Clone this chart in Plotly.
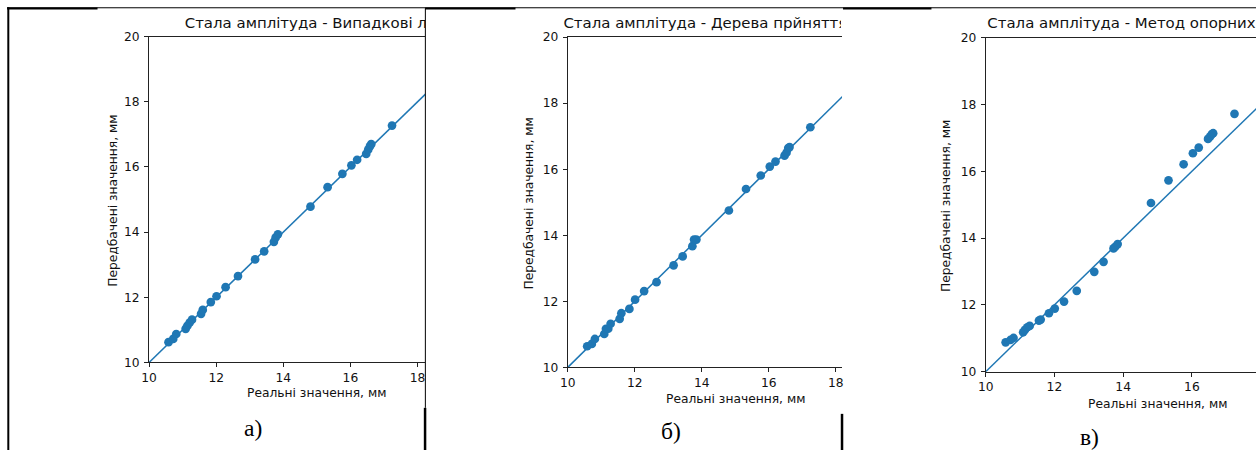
import plotly.graph_objects as go

# The photographed page is (figure + 8px body margin on each side) scaled into
# 1256x450, so target picture pixels t are converted into figure pixels.
OUT_W, OUT_H = 1256, 450
OFF = 8
SX = (OUT_W + 2 * OFF) / OUT_W
SY = (OUT_H + 2 * OFF) / OUT_H
W, H = OUT_W + OFF, OUT_H + OFF  # figure covers the picture up to its right/bottom edge
FS = 1.0 / ((1 / SX + 1 / SY) / 2)  # font compensation for the shrink

# ---- data ----
real = [10.58, 10.72, 10.81, 11.09, 11.14, 11.21, 11.28, 11.55, 11.60, 11.84,
        12.01, 12.28, 12.65, 13.16, 13.43, 13.72, 13.77, 13.84, 14.81, 15.32,
        15.76, 16.03, 16.20, 16.47, 16.53, 16.58, 16.62, 17.24]
pred_rf = [10.62, 10.72, 10.87, 11.03, 11.12, 11.22, 11.31, 11.49, 11.61, 11.85,
           12.03, 12.31, 12.65, 13.16, 13.41, 13.70, 13.83, 13.93, 14.78, 15.38,
           15.79, 16.05, 16.22, 16.40, 16.53, 16.63, 16.70, 17.27]
pred_dt = [10.64, 10.71, 10.86, 11.01, 11.17, 11.17, 11.32, 11.47, 11.64, 11.77,
           12.05, 12.31, 12.58, 13.09, 13.36, 13.67, 13.87, 13.87, 14.75, 15.40,
           15.81, 16.08, 16.23, 16.41, 16.50, 16.64, 16.67, 17.27]
pred_svr = [10.88, 10.95, 11.01, 11.18, 11.25, 11.33, 11.37, 11.53, 11.56, 11.75,
            11.89, 12.10, 12.42, 12.99, 13.29, 13.69, 13.74, 13.82, 15.05, 15.73,
            16.21, 16.54, 16.71, 16.97, 17.04, 17.11, 17.14, 17.72]
diag = [10, 20]

titles = ["Стала амплітуда - Випадкові ліси",
          "Стала амплітуда - Дерева прйняття рішень",
          "Стала амплітуда - Метод опорних векторів"]
xlabel = "Реальні значення, мм"
ylabel = "Передбачені значення, мм"
panel_labels = ["а)", "б)", "в)"]
xticks = [10, 12, 14, 16, 18]
yticks = [10, 12, 14, 16, 18, 20]

BLUE = "#1f77b4"
FONT = "DejaVu Sans"
TXT = "#111111"


def px(t):
    return (t * SX - OFF) / W


def py(t):
    return 1 - (t * SY - OFF) / H


# pixel geometry of each panel (picture pixels)
panels = [
    dict(pred=pred_rf, x0=148.3, x1=423.0, sc=33.4, y0=37.3, y1=361.7,
         img=(97, 423), xlab=(315, 392), ylab=(111.7, 200.5), lab=(252, 427)),
    dict(pred=pred_dt, x0=565.0, x1=838.0, sc=33.35, y0=37.7, y1=366.7,
         img=(424, 837), xlab=(731.7, 398.3), ylab=(526.7, 203.3), lab=(668, 430)),
    dict(pred=pred_svr, x0=981.0, x1=1255.0, sc=34.2, y0=38.3, y1=371.0,
         img=(839, 1252), xlab=(1151.5, 403.3), ylab=(941.7, 205.8), lab=(1084, 436.5)),
]

fig = go.Figure()
layout = dict(width=W, height=H, margin=dict(l=0, r=0, t=0, b=0), autosize=False,
              paper_bgcolor="white", plot_bgcolor="white", showlegend=False)
annotations = []

for i, p in enumerate(panels):
    n = i + 1
    xa = "x" if n == 1 else f"x{n}"
    ya = "y" if n == 1 else f"y{n}"
    xmax = 10 + (p["x1"] - p["x0"]) / p["sc"]
    fig.add_trace(go.Scatter(x=diag, y=diag, mode="lines", line=dict(color=BLUE, width=1.5),
                             xaxis=xa, yaxis=ya, hoverinfo="skip"))
    fig.add_trace(go.Scatter(x=real, y=p["pred"], mode="markers",
                             marker=dict(color=BLUE, size=8.5 * FS, line=dict(width=0)),
                             xaxis=xa, yaxis=ya))
    axcommon = dict(showgrid=False, zeroline=False, showline=True, linecolor="#222222",
                    linewidth=1, ticks="outside", ticklen=4, tickwidth=1, tickcolor="#222222",
                    tickfont=dict(family=FONT, size=12 * FS, color=TXT), fixedrange=True)
    layout["xaxis" if n == 1 else f"xaxis{n}"] = dict(
        axcommon, domain=[px(p["x0"]), px(p["x1"])], range=[10, xmax], anchor=ya,
        tickvals=xticks, mirror=True)
    layout["yaxis" if n == 1 else f"yaxis{n}"] = dict(
        axcommon, domain=[py(p["y1"]), py(p["y0"])], range=[10, 20], anchor=xa,
        tickvals=yticks, mirror=False, ticklabelstandoff=2)

    # title: clipped text on an invisible overlay subplot (cropped like the picture)
    m = n + 3
    ox0 = 10 + (p["img"][0] - p["x0"]) / p["sc"]
    ox1 = 10 + (p["img"][1] - p["x0"]) / p["sc"]
    fig.add_trace(go.Scatter(x=[15], y=[(37 - 25) / 28], mode="text", text=[titles[i]],
                             textposition="middle center", cliponaxis=True,
                             textfont=dict(family=FONT, size=14.6 * FS, color=TXT),
                             xaxis=f"x{m}", yaxis=f"y{m}", hoverinfo="skip"))
    layout[f"xaxis{m}"] = dict(domain=[px(p["img"][0]), px(p["img"][1])],
                               range=[ox0, ox1], visible=False, anchor=f"y{m}", fixedrange=True)
    layout[f"yaxis{m}"] = dict(domain=[py(37), py(9)], range=[0, 1], visible=False,
                               anchor=f"x{m}", fixedrange=True)

    annotations.append(dict(x=px(p["xlab"][0]), y=py(p["xlab"][1]), xref="paper", yref="paper",
                            text=xlabel, showarrow=False, xanchor="center", yanchor="middle",
                            font=dict(family=FONT, size=12 * FS, color=TXT)))
    annotations.append(dict(x=px(p["ylab"][0]), y=py(p["ylab"][1]), xref="paper", yref="paper",
                            text=ylabel, showarrow=False, xanchor="center", yanchor="middle",
                            textangle=-90, font=dict(family=FONT, size=12 * FS, color=TXT)))
    annotations.append(dict(x=px(p["lab"][0]), y=py(p["lab"][1]), xref="paper", yref="paper",
                            text=panel_labels[i], showarrow=False, xanchor="center",
                            yanchor="middle",
                            font=dict(family="Liberation Serif", size=23 * FS, color="black")))

layout["annotations"] = annotations


def seg(xa, ya, xb, yb, w):
    return dict(type="line", xref="paper", yref="paper", x0=px(xa), y0=py(ya),
                x1=px(xb), y1=py(yb), line=dict(color="black", width=w), layer="above")


shapes = [
    dict(type="rect", xref="paper", yref="paper", x0=px(1253), x1=1, y0=0, y1=1,
         fillcolor="white", line=dict(width=0), layer="above"),
    seg(7, 8.5, 1253, 8.5, 1),
    seg(7, 9.3, 97, 9.3, 2),
    seg(423, 9.3, 513, 9.3, 2),
    seg(839, 9.3, 927, 9.3, 2),
    seg(8.2, 8, 8.2, 450, 2),
    seg(423.3, 9, 423.3, 407, 1),
    seg(423.0, 407, 423.0, 450, 2.5),
    seg(838.0, 413, 838.0, 450, 2.5),
    seg(1251.8, 8, 1251.8, 420, 1),
    seg(1253.3, 420, 1253.3, 450, 3),
]
layout["shapes"] = shapes

fig.update_layout(**layout)
fig.write_html("out.html")
